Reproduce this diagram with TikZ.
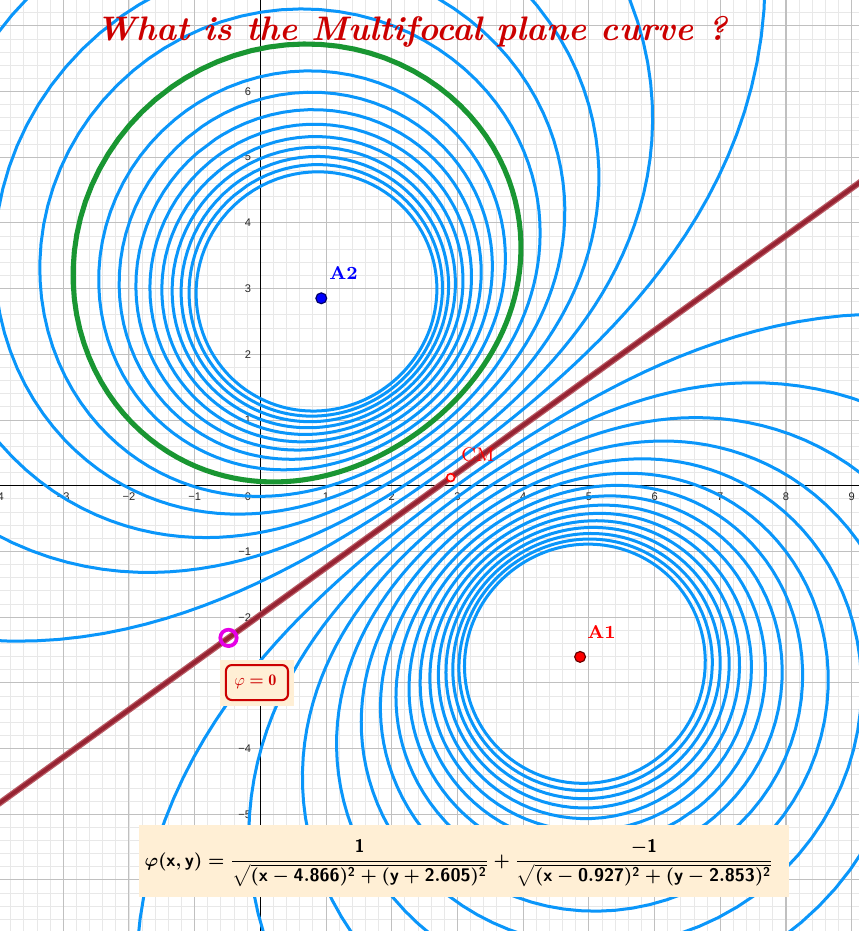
\documentclass[tikz,border=0pt]{standalone}
\usepackage{fontspec}
\usepackage{amsmath}
\usepackage{graphicx}
\newfontfamily\ticksf{Liberation Sans}
\definecolor{curveblue}{RGB}{10,150,250}
\definecolor{curvegreen}{RGB}{25,150,50}
\definecolor{lineredout}{RGB}{185,90,100}
\definecolor{linered}{RGB}{150,35,50}
\definecolor{titlered}{RGB}{204,0,0}
\definecolor{boxbg}{RGB}{255,239,213}
\definecolor{minorgrid}{RGB}{232,232,232}
\definecolor{majorgrid}{RGB}{192,192,192}
\definecolor{magentapt}{RGB}{230,0,230}
\def\axa{4.866}\def\aya{-2.605}\def\axb{0.927}\def\ayb{2.853}
\def\dd{6.73094}\def\ux{-0.58521}\def\uy{0.81088}
\def\wx{-0.81088}\def\wy{-0.58521}
\newcommand\setlevel[1]{%
  \pgfmathsetmacro\cc{#1*0.0266667}%
  \pgfmathsetmacro\tz{((\cc*\dd+2)-sqrt((\cc*\dd)^2+4))/(2*\cc)}%
  \pgfmathsetmacro\tp{(sqrt((\cc*\dd)^2+4*\cc*\dd)-\cc*\dd)/(2*\cc)}}
\newcommand\buildpair{%
  \gdef\ptsA{}\gdef\ptsB{}%
  \foreach \ang in {0,3,...,357}{%
    \pgfmathsetmacro\tv{\tz+(\tp-\tz)*(1-cos(\ang))/2}%
    \pgfmathsetmacro\rv{\tv/(1-\cc*\tv)}%
    \pgfmathsetmacro\cv{max(-1,min(1,(\tv*\tv+\dd*\dd-\rv*\rv)/(2*\tv*\dd)))}%
    \pgfmathsetmacro\snv{(\ang<180 ? 1 : -1)*sqrt(1-\cv*\cv)}%
    \pgfmathsetmacro\xa{\axa+\tv*(\cv*(\ux)+\snv*(\wx))}%
    \pgfmathsetmacro\ya{\aya+\tv*(\cv*(\uy)+\snv*(\wy))}%
    \pgfmathsetmacro\xb{\axb+\tv*(-\cv*(\ux)+\snv*(\wx))}%
    \pgfmathsetmacro\yb{\ayb+\tv*(-\cv*(\uy)+\snv*(\wy))}%
    \xdef\ptsA{\ptsA (\xa,\ya)}%
    \xdef\ptsB{\ptsB (\xb,\yb)}%
  }}
\begin{document}
\begin{tikzpicture}[x=1cm,y=1cm,
  bluecurve/.style={draw=curveblue,line width=1.3pt,line join=round,line cap=round},
  greencurve/.style={draw=curvegreen,line width=2.2pt,line join=round,line cap=round},
  xlab/.style={font=\ticksf\fontsize{4.8}{5}\selectfont,text=black!85,inner sep=0pt,anchor=center},
  ylab/.style={font=\ticksf\fontsize{4.8}{5}\selectfont,text=black!85,inner sep=0pt,anchor=east},
  ptlabel/.style={inner sep=0pt,font=\bfseries\fontsize{8}{9}\selectfont},
]
\useasboundingbox (-3.963,-6.777) rectangle (9.111,7.393);
\clip (-3.963,-6.777) rectangle (9.111,7.393);
\fill[white] (-3.963,-6.777) rectangle (9.111,7.393);
% grid
\draw[minorgrid,line width=0.4pt,step=0.2] (-4.2,-7) grid (9.4,7.6);
\draw[majorgrid,line width=0.45pt,step=1] (-4.2,-7) grid (9.4,7.6);
% axes
\coordinate (xa) at (-3.963,0); \coordinate (xb) at (9.111,0);
\coordinate (ya) at (0,-6.777); \coordinate (yb) at (0,7.393);
\draw[black,line width=0.6pt] (xa) -- (xb);
\draw[black,line width=0.6pt] (ya) -- (yb);
% tick labels
\foreach \i in {1,...,9} \node[xlab] (xl\i) at (\i,-0.17) {\i};
\foreach \i in {1,...,4} \node[xlab] (xlm\i) at (-\i,-0.17) {−\i};
\node[xlab] (xl0) at (-0.19,-0.17) {0};
\foreach \i in {1,...,6} \node[ylab] (yl\i) at (-0.135,\i) {\i};
\foreach \i in {1,2,4,5} \node[ylab] (ylm\i) at (-0.135,-\i) {−\i};
% level curves phi = +-k*0.02667
\foreach \k in {1,...,15}{
  \setlevel{\k}
  \buildpair
  \edef\cmd{\noexpand\draw[bluecurve] plot coordinates {\ptsA} -- cycle;}\cmd
  \ifnum\k=6
    \edef\cmd{\noexpand\draw[greencurve] plot coordinates {\ptsB} -- cycle;}\cmd
  \else
    \edef\cmd{\noexpand\draw[bluecurve] plot coordinates {\ptsB} -- cycle;}\cmd
  \fi
}
% zero line
\coordinate (L1) at (-4.1,-4.925);
\coordinate (L2) at (9.3,4.745);
\draw[lineredout,line width=2.7pt] (L1) -- (L2);
\draw[linered,line width=1.6pt] (L1) -- (L2);
% points
\node[circle,draw=magentapt,line width=1.6pt,minimum size=0.25cm,inner sep=0pt] (P) at (-0.485,-2.316) {};
\node[circle,draw=red,fill=red!12,line width=0.7pt,minimum size=0.12cm,inner sep=0pt] (CM) at (2.8965,0.124) {};
\node[circle,draw=black!60!red,fill=red,line width=0.5pt,minimum size=0.165cm,inner sep=0pt] (A1) at (\axa,\aya) {};
\node[circle,draw=black!60!blue,fill=blue,line width=0.5pt,minimum size=0.165cm,inner sep=0pt] (A2) at (\axb,\ayb) {};
\node[ptlabel,text=red] (A1lab) at (5.192,-2.227) {A1};
\node[ptlabel,text=blue] (A2lab) at (1.265,3.245) {A2};
\node[inner sep=0pt,text=red,font=\fontsize{8.5}{9}\selectfont] (CMlab) at (3.312,0.467) {CM};
% title
\node[text=titlered,inner sep=0pt,anchor=base] (title) at (2.31,6.784)
  {\resizebox{9.6cm}{!}{\bfseries\itshape What is the Multifocal plane curve ?}};
% formula box
\node[fill=boxbg,minimum width=9.884cm,minimum height=1.092cm,inner sep=0pt] (fbox) at (3.099,-5.710) {};
\node[inner sep=0pt] (formula) at (3.023,-5.743) {\resizebox{9.57cm}{!}{\boldmath$\displaystyle
  \varphi(\mathsf{x},\mathsf{y})=\frac{\mathsf{1}}{\sqrt{(\mathsf{x}-\mathsf{4.866})^{\mathsf{2}}+(\mathsf{y}+\mathsf{2.605})^{\mathsf{2}}}}
  +\frac{-\mathsf{1}}{\sqrt{(\mathsf{x}-\mathsf{0.927})^{\mathsf{2}}+(\mathsf{y}-\mathsf{2.853})^{\mathsf{2}}}}$}};
% phi = 0 label
\node[fill=boxbg,minimum width=1.118cm,minimum height=0.708cm,inner sep=0pt] (zbox) at (-0.048,-2.999) {};
\node[draw=titlered,fill=boxbg,line width=0.9pt,rounded corners=0.09cm,minimum width=0.944cm,minimum height=0.533cm,inner sep=0pt] (zinner) at (-0.052,-2.9955) {};
\node[text=titlered,inner sep=0pt] (ztext) at (-0.075,-2.983) {\resizebox{0.64cm}{!}{$\varphi\mathrel{\boldsymbol{=}}\mathbf{0}$}};
\end{tikzpicture}
\end{document}
